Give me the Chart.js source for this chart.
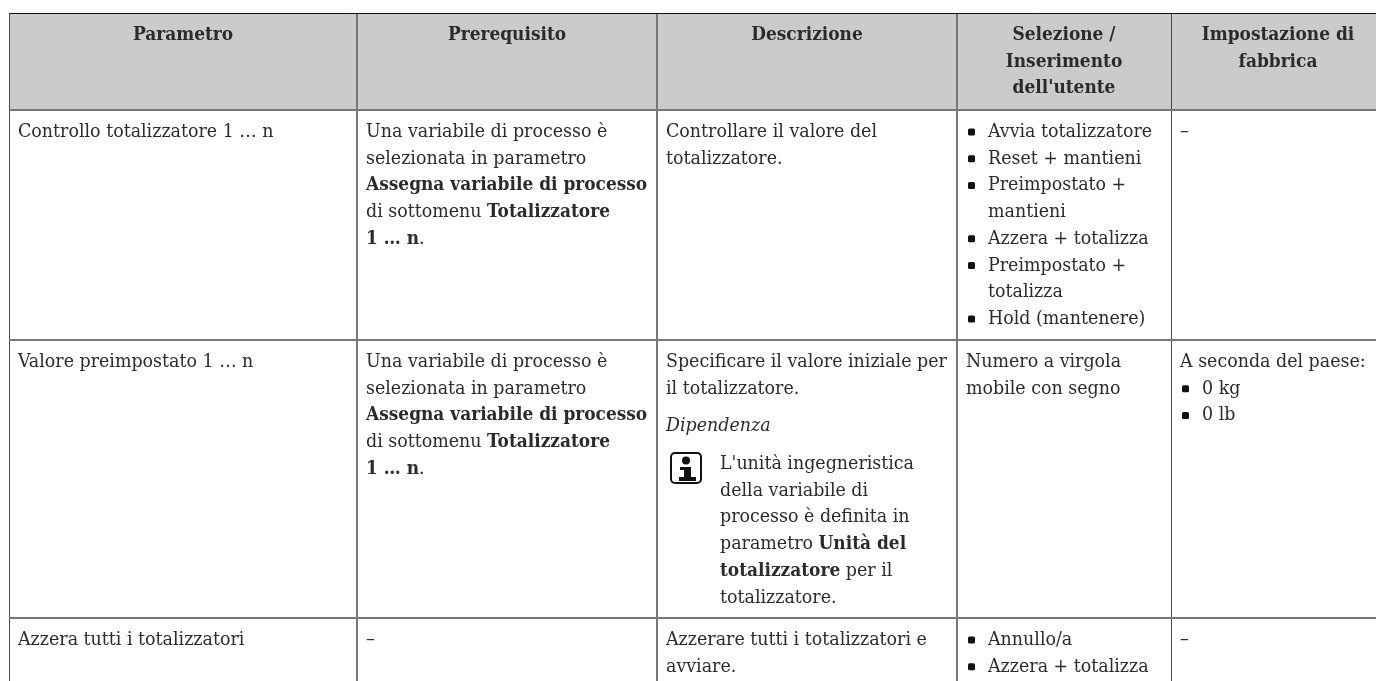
<!DOCTYPE html>
<html>
<head>
<meta charset="utf-8">
<style>
    html, body { margin: 0; background: #fff; }
    canvas { display: block; }
</style>
<script src="https://cdn.jsdelivr.net/npm/chart.js@4"></script>
</head>
<body>
<canvas id="paramTable" width="1376" height="681"></canvas>
<script>
// Table text. ** marks bold runs, one entry per printed line
const headers = [
    ['Parametro'],
    ['Prerequisito'],
    ['Descrizione'],
    ['Selezione /', 'Inserimento', "dell'utente"],
    ['Impostazione di', 'fabbrica']
];
const parametri = ['Controllo totalizzatore 1 … n', 'Valore preimpostato 1 … n', 'Azzera tutti i totalizzatori'];
const prerequisito = [
    'Una variabile di processo è',
    'selezionata in parametro',
    '**Assegna variabile di processo**',
    'di sottomenu **Totalizzatore**',
    '**1 … n**.'
];
const descrizioneControllo = ['Controllare il valore del', 'totalizzatore.'];
const descrizioneValore = ['Specificare il valore iniziale per', 'il totalizzatore.'];
const dipendenzaLabel = 'Dipendenza';
const dipendenzaNota = [
    "L'unità ingegneristica",
    'della variabile di',
    'processo è definita in',
    'parametro **Unità del**',
    '**totalizzatore** per il',
    'totalizzatore.'
];
const descrizioneAzzera = ['Azzerare tutti i totalizzatori e', 'avviare.'];
const selezioneControllo = [
    ['Avvia totalizzatore'],
    ['Reset + mantieni'],
    ['Preimpostato +', 'mantieni'],
    ['Azzera + totalizza'],
    ['Preimpostato +', 'totalizza'],
    ['Hold (mantenere)']
];
const selezioneValore = ['Numero a virgola', 'mobile con segno'];
const selezioneAzzera = [['Annullo/a'], ['Azzera + totalizza']];
const fabbricaValore = 'A seconda del paese:';
const fabbricaUnita = [['0 kg'], ['0 lb']];
const nessunValore = '–';

// Layout, in table units (pixels from the table's top left corner)
const columnEdges = [0, 348, 648, 948, 1162];
const rowEdges = [0, 97, 327, 605];
const tableRight = 1376; // last column runs off the page
const lineHeight = 26.7;
const firstLine = 22;
const cellPad = 9;
const bulletIndent = 22;

const FONT = '"DejaVu Serif Condensed", "DejaVu Serif", serif';
const TEXT_COLOR = '#2b2b2b';

const textPoints = [];
const bulletPoints = [];

function addLines(lines, x, y, opts = {}) {
    lines.forEach((text, i) => {
        textPoints.push({ x, y: y + i * lineHeight, text, ...opts });
    });
}

function addBullets(items, x, y) {
    let line = 0;
    items.forEach(item => {
        bulletPoints.push({ x: x + 5.5, y: y + line * lineHeight });
        addLines(item, x + bulletIndent, y + line * lineHeight);
        line += item.length;
    });
}

function buildCells() {
    headers.forEach((lines, c) => {
        const right = c < 4 ? columnEdges[c + 1] : tableRight;
        addLines(lines, (columnEdges[c] + right) / 2, firstLine, { bold: true, center: true });
    });

    const [, r0, r1, r2] = rowEdges;
    const col = c => columnEdges[c] + cellPad;

    [r0, r1, r2].forEach((top, r) => addLines([parametri[r]], col(0), top + firstLine));

    addLines(prerequisito, col(1), r0 + firstLine);
    addLines(prerequisito, col(1), r1 + firstLine);
    addLines([nessunValore], col(1), r2 + firstLine);

    addLines(descrizioneControllo, col(2), r0 + firstLine);
    addLines(descrizioneValore, col(2), r1 + firstLine);
    addLines([dipendenzaLabel], col(2), r1 + firstLine + 64, { italic: true });
    addLines(dipendenzaNota, col(2) + 54, r1 + firstLine + 102);
    addLines(descrizioneAzzera, col(2), r2 + firstLine);

    addBullets(selezioneControllo, col(3), r0 + firstLine);
    addLines(selezioneValore, col(3), r1 + firstLine);
    addBullets(selezioneAzzera, col(3), r2 + firstLine);

    addLines([nessunValore], col(4), r0 + firstLine);
    addLines([fabbricaValore], col(4), r1 + firstLine);
    addBullets(fabbricaUnita, col(4), r1 + firstLine + lineHeight);
    addLines([nessunValore], col(4), r2 + firstLine);
}

function splitRuns(text) {
    return text.split('**').map((part, i) => ({ part, bold: i % 2 === 1 })).filter(r => r.part);
}

function fontFor(bold, italic) {
    return `${italic ? 'italic ' : ''}${bold ? 'bold 18.9px' : '19.4px'} ${FONT}`;
}

function drawText(ctx, point, px, py) {
    const runs = splitRuns(point.text);
    ctx.textBaseline = 'middle';
    ctx.fillStyle = TEXT_COLOR;
    let total = 0;
    runs.forEach(r => {
        ctx.font = fontFor(point.bold || r.bold, point.italic);
        total += ctx.measureText(r.part).width;
    });
    let cursor = point.center ? px - total / 2 : px;
    runs.forEach(r => {
        ctx.font = fontFor(point.bold || r.bold, point.italic);
        ctx.textAlign = 'left';
        ctx.fillText(r.part, cursor, py);
        cursor += ctx.measureText(r.part).width;
    });
}

function drawInfoIcon(ctx, left, top) {
    ctx.strokeStyle = '#111';
    ctx.lineWidth = 2;
    ctx.beginPath();
    ctx.roundRect(left, top, 30, 30, 4);
    ctx.stroke();
    ctx.fillStyle = '#111';
    ctx.beginPath();
    ctx.arc(left + 15, top + 7.5, 4, 0, Math.PI * 2);
    ctx.fill();
    ctx.fillRect(left + 9, top + 14, 11, 3);
    ctx.fillRect(left + 13, top + 14, 7, 11);
    ctx.fillRect(left + 8, top + 24, 17, 4);
}

const tablePlugin = {
    id: 'tablePlugin',
    beforeDraw(chart) {
        const { ctx, scales: { x, y } } = chart;
        ctx.fillStyle = '#cbcbcb';
        ctx.fillRect(x.getPixelForValue(0), y.getPixelForValue(0),
            x.getPixelForValue(x.max) - x.getPixelForValue(0),
            y.getPixelForValue(rowEdges[1]) - y.getPixelForValue(0));
    },
    afterDatasetsDraw(chart) {
        const { ctx, scales: { x, y } } = chart;
        ctx.save();
        chart.getDatasetMeta(0).data.forEach((el, i) => {
            drawText(ctx, textPoints[i], el.x, el.y);
        });
        chart.getDatasetMeta(1).data.forEach(el => {
            ctx.fillStyle = '#111';
            ctx.beginPath();
            ctx.roundRect(el.x - 3.5, el.y - 3.5, 7, 7, 1.5);
            ctx.fill();
        });
        drawInfoIcon(ctx, x.getPixelForValue(columnEdges[2] + 14), y.getPixelForValue(rowEdges[2] + 113));
        ctx.restore();
    }
};

buildCells();

new Chart(document.getElementById('paramTable'), {
    type: 'scatter',
    data: {
        datasets: [
            { data: textPoints, pointRadius: 0 },
            { data: bulletPoints, pointRadius: 0 }
        ]
    },
    plugins: [tablePlugin],
    options: {
        responsive: false,
        animation: false,
        layout: { padding: { left: 9, top: 13, right: 0, bottom: 0 } },
        plugins: { legend: { display: false }, tooltip: { enabled: false } },
        events: [],
        scales: {
            x: {
                type: 'linear',
                min: 0,
                max: 1367,
                afterBuildTicks: scale => { scale.ticks = columnEdges.map(value => ({ value })); },
                ticks: { display: false, autoSkip: false },
                border: { display: false },
                grid: {
                    drawTicks: false,
                    color: c => (c.index === 0 || c.index === 4 ? '#4a4a4a' : '#777'),
                    lineWidth: c => (c.index === 0 || c.index === 4 ? 1 : 2)
                }
            },
            y: {
                type: 'linear',
                reverse: true,
                min: 0,
                max: 668,
                afterBuildTicks: scale => { scale.ticks = rowEdges.map(value => ({ value })); },
                ticks: { display: false, autoSkip: false },
                border: { display: false },
                grid: {
                    drawTicks: false,
                    color: c => (c.index === 0 ? '#111' : '#777'),
                    lineWidth: c => (c.index === 0 ? 1 : 2)
                }
            }
        }
    }
});
</script>
</body>
</html>
